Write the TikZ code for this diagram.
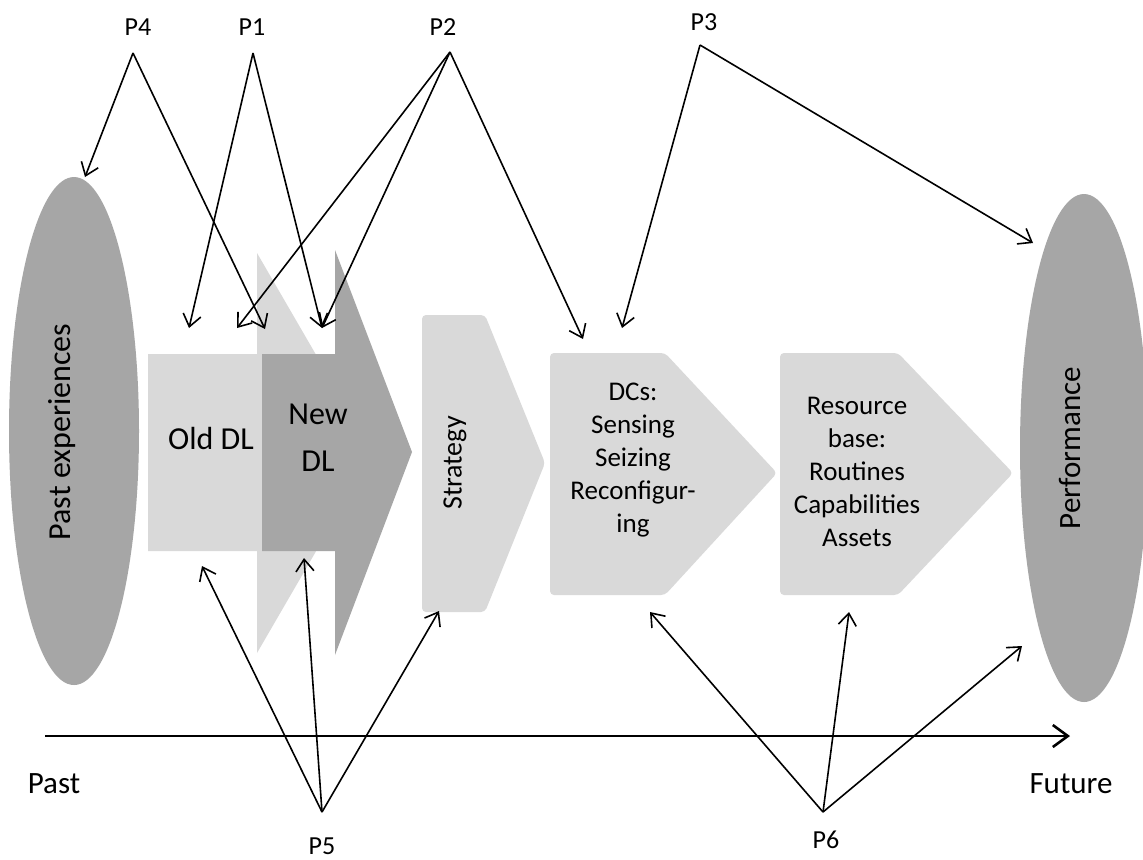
\documentclass[tikz,border=0pt]{standalone}
\usepackage{fontspec}
\setmainfont{Carlito}
\usetikzlibrary{arrows.meta}
\definecolor{lightg}{RGB}{217,217,217}
\definecolor{darkg}{RGB}{166,166,166}
\begin{document}
\begin{tikzpicture}[x=0.5pt,y=-0.5pt,
  conn/.style={draw=black,line width=0.8pt,-{Straight Barb[length=6pt,width=9pt]}},
  plabel/.style={font=\fontsize{13}{15}\selectfont,inner sep=0pt},
  boxtext/.style={font=\fontsize{13.5}{16.5}\selectfont,align=center,inner sep=0pt},
  bigtext/.style={font=\fontsize{16}{20}\selectfont,align=center,inner sep=0pt},
  ovalshape/.style={fill=darkg,draw=none}]
\useasboundingbox[fill=white] (0,0) rectangle (1143,859);

% ellipses
\fill[darkg] (74,431) ellipse [x radius=65, y radius=254];
\fill[darkg] (1084,448) ellipse [x radius=64, y radius=254];
\node[bigtext,rotate=90] (past) at (62,432) {Past experiences};
\node[font=\fontsize{15.5}{18}\selectfont,inner sep=0pt,rotate=90] (perf) at (1070,448) {Performance};

% old DL arrow (light)
\fill[lightg] (148,354) -- (257,354) -- (257,253) -- (373,453) -- (257,653) -- (257,551) -- (148,551) -- cycle;
% new DL arrow (dark)
\fill[darkg] (262,354) -- (335,354) -- (335,250) -- (412,452) -- (335,655) -- (335,551) -- (262,551) -- cycle;
\node[bigtext] (old) at (211,438) {Old DL};
\node[bigtext,font=\fontsize{16}{23.5}\selectfont] (new) at (318,438) {New\\DL};

% strategy chevron
\fill[lightg,rounded corners=2pt] (422,315) -- (485,315) -- (545,463) -- (485,612) -- (422,612) -- cycle;
\node[font=\fontsize{14}{16}\selectfont,inner sep=0pt,rotate=90] (strat) at (455,463) {Strategy};

% DCs pentagon
\fill[lightg,rounded corners=2pt] (550,353) -- (665,353) -- (777,473) -- (665,595) -- (550,595) -- cycle;
\node[boxtext] (dcs) at (633,460) {DCs:\\Sensing\\Seizing\\Reconfigur-\\ing};

% resource pentagon
\fill[lightg,rounded corners=2pt] (780,353) -- (898,353) -- (1013,473) -- (898,595) -- (780,595) -- cycle;
\node[boxtext] (res) at (857,472) {Resource\\base:\\Routines\\Capabilities\\Assets};

% timeline
\node[font=\fontsize{15.5}{18}\selectfont,inner sep=0pt] (pastlbl) at (54,784) {Past};
\node[font=\fontsize{15.5}{18}\selectfont,inner sep=0pt] (futlbl) at (1071,784) {Future};
\coordinate (tl0) at (45,736);
\coordinate (tl1) at (1070,736);
\draw[line width=1.3pt,-{Straight Barb[length=7.5pt,width=11pt]}] (tl0) -- (tl1);

% P labels
\node[plabel] (p4) at (138,27) {P4};
\node[plabel] (p1) at (252,27) {P1};
\node[plabel] (p2) at (443,27) {P2};
\node[plabel] (p3) at (704,22) {P3};
\node[plabel] (p5) at (322,846) {P5};
\node[plabel] (p6) at (826,840) {P6};

% apexes
\coordinate (a4) at (133,53);
\coordinate (a1) at (253,53);
\coordinate (a2) at (450,52);
\coordinate (a3) at (700,45);
\coordinate (a5) at (322,812);
\coordinate (a6) at (823,812);

% targets
\coordinate (t4a) at (85,177);
\coordinate (t4b) at (265,329);
\coordinate (t1a) at (189,328);
\coordinate (t1b) at (322,328);
\coordinate (t2a) at (237,328);
\coordinate (t2b) at (322,328);
\coordinate (t2c) at (583,339);
\coordinate (t3a) at (622,328);
\coordinate (t3b) at (1033,243);
\coordinate (t5a) at (202,566);
\coordinate (t5b) at (304,558);
\coordinate (t5c) at (439,611);
\coordinate (t6a) at (650,612);
\coordinate (t6b) at (849,612);
\coordinate (t6c) at (1022,646);

\draw[conn] (a4) -- (t4a);
\draw[conn] (a4) -- (t4b);
\draw[conn] (a1) -- (t1a);
\draw[conn] (a1) -- (t1b);
\draw[conn] (a2) -- (t2a);
\draw[conn] (a2) -- (t2b);
\draw[conn] (a2) -- (t2c);
\draw[conn] (a3) -- (t3a);
\draw[conn] (a3) -- (t3b);
\draw[conn] (a5) -- (t5a);
\draw[conn] (a5) -- (t5b);
\draw[conn] (a5) -- (t5c);
\draw[conn] (a6) -- (t6a);
\draw[conn] (a6) -- (t6b);
\draw[conn] (a6) -- (t6c);
\end{tikzpicture}
\end{document}
